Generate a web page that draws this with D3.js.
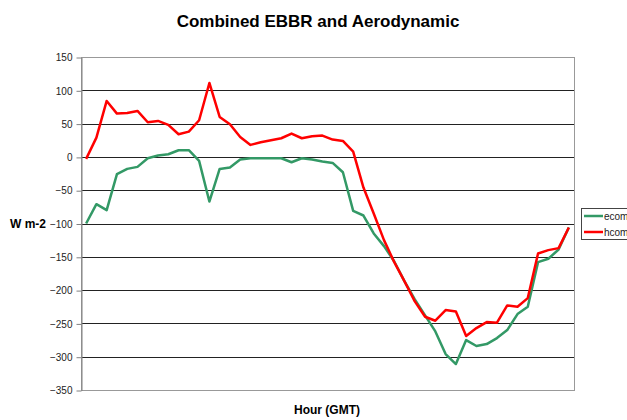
<!DOCTYPE html>
<html>
<head>
<meta charset="utf-8">
<script src="https://cdn.jsdelivr.net/npm/d3@7"></script>
<style>
  body { margin: 0; background: #fff; }
  text { font-family: "Liberation Sans", Arial, sans-serif; }
</style>
</head>
<body>
<div id="chart"></div>
<script>
// Half-hourly values (48 slots)
const hours = d3.range(48);
const ecom = [-100, -71, -80, -26, -18, -15, -2, 2, 4, 10, 10, -6, -67, -18, -16, -4,
  -2, -2, -2, -2, -8, -2, -4, -7, -9, -23, -81, -88, -115, -134, -157, -187,
  -214, -238, -262, -296, -311, -275, -284, -281, -272, -260, -236, -225, -158, -153, -139, -106];
const hcom = [-3, 29, 84, 65, 66, 69, 52, 54, 48, 34, 38, 55, 111, 60, 49, 30,
  18, 22, 25, 28, 35, 28, 31, 32, 26, 24, 8, -46, -85, -125, -158, -187,
  -217, -240, -246, -230, -232, -269, -257, -248, -249, -223, -225, -212, -145, -140, -137, -106];
const yTicks = [150, 100, 50, 0, -50, -100, -150, -200, -250, -300, -350];
const seriesNames = ["ecom", "hcom"];
const seriesColors = ["#339966", "#ff0000"];

const W = 627, H = 420;
const plot = { left: 81, right: 574, top: 57, bottom: 390 };

const svg = d3.select("#chart")
  .append("svg")
  .attr("width", W)
  .attr("height", H);

const x = d3.scalePoint()
  .domain(hours)
  .range([plot.left, plot.right])
  .padding(0.5);

const y = d3.scaleLinear()
  .domain([-350, 150])
  .range([plot.bottom, plot.top]);

// Title
svg.append("text")
  .attr("x", 318)
  .attr("y", 27)
  .attr("text-anchor", "middle")
  .style("font-size", "17px")
  .style("font-weight", "bold")
  .text("Combined EBBR and Aerodynamic");

// Gridlines
svg.append("g")
  .selectAll("line")
  .data(yTicks.filter(d => d !== 150 && d !== -350))
  .enter().append("line")
  .attr("x1", plot.left)
  .attr("x2", plot.right)
  .attr("y1", d => Math.round(y(d)) + 0.5)
  .attr("y2", d => Math.round(y(d)) + 0.5)
  .attr("stroke", "#222")
  .attr("stroke-width", 1);

// Plot border
svg.append("rect")
  .attr("x", plot.left + 0.5)
  .attr("y", Math.round(plot.top) + 0.5)
  .attr("width", plot.right - plot.left)
  .attr("height", plot.bottom - plot.top)
  .attr("fill", "none")
  .attr("stroke", "#999");

// Y axis
const yAxis = d3.axisLeft(y)
  .tickValues(yTicks)
  .tickSize(5)
  .tickPadding(4)
  .tickSizeOuter(0);
const gy = svg.append("g")
  .attr("transform", `translate(${plot.left + 0.5},0.5)`)
  .call(yAxis);
gy.select(".domain").attr("stroke", "#808080");
gy.selectAll(".tick line").attr("stroke", "#808080");
gy.selectAll(".tick text")
  .attr("fill", "#222")
  .style("font-size", "10px")
  .style("font-family", "'Liberation Sans', Arial, sans-serif");

// Axis titles
svg.append("text")
  .attr("x", 10)
  .attr("y", 228)
  .style("font-size", "12px")
  .style("font-weight", "bold")
  .text("W m-2");

svg.append("text")
  .attr("x", 327)
  .attr("y", 414)
  .attr("text-anchor", "middle")
  .style("font-size", "12px")
  .style("font-weight", "bold")
  .text("Hour (GMT)");

// Lines
const line = d3.line()
  .x((d, i) => x(hours[i]))
  .y(d => y(d));

[ecom, hcom].forEach((vals, k) => {
  svg.append("path")
    .datum(vals)
    .attr("fill", "none")
    .attr("stroke", seriesColors[k])
    .attr("stroke-width", 2.5)
    .attr("stroke-linejoin", "round")
    .attr("d", line);
});

// Legend
const legend = svg.append("g").attr("transform", "translate(581,208)");
legend.append("rect")
  .attr("x", 0.5)
  .attr("y", 0.5)
  .attr("width", 60)
  .attr("height", 31)
  .attr("fill", "#fff")
  .attr("stroke", "#444");
seriesNames.forEach((name, i) => {
  const g = legend.append("g").attr("transform", `translate(0,${8 + i * 16})`);
  g.append("line")
    .attr("x1", 3).attr("x2", 22)
    .attr("y1", 0).attr("y2", 0)
    .attr("stroke", seriesColors[i])
    .attr("stroke-width", 2.5);
  g.append("text")
    .attr("x", 23)
    .attr("y", 4)
    .style("font-size", "10px")
    .attr("fill", "#222")
    .text(name);
});
</script>
</body>
</html>
